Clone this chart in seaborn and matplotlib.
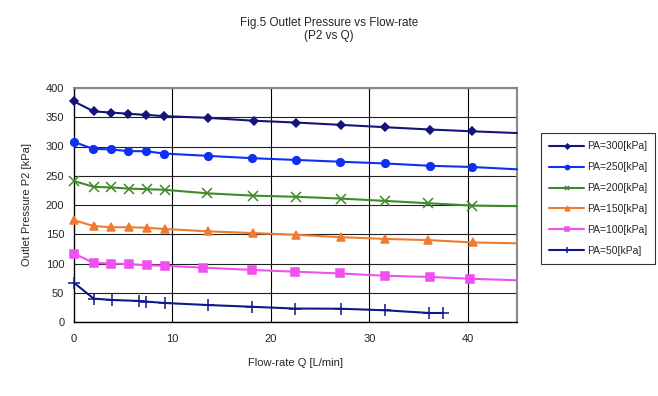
import matplotlib
matplotlib.use("Agg")
import matplotlib.pyplot as plt
import seaborn as sns
import pandas as pd

# flow-rate Q [L/min] and outlet pressure P2 [kPa] for each series
q_300 = [0, 2.0, 3.8, 5.5, 7.3, 9.1, 13.6, 18.3, 22.5, 27.1, 31.6, 36.2, 40.4, 45]
p_300 = [377, 360, 358, 356, 354, 352, 349, 344, 341, 337, 333, 329, 326, 323]

q_250 = [0, 1.9, 3.8, 5.5, 7.3, 9.1, 13.6, 18.1, 22.6, 27.0, 31.6, 36.2, 40.4, 45]
p_250 = [308, 296, 295, 292, 292, 288, 284, 280, 277, 274, 271, 267, 265, 261]

q_200 = [0, 2.0, 3.8, 5.6, 7.4, 9.2, 13.5, 18.2, 22.6, 27.1, 31.6, 36.0, 40.4, 45]
p_200 = [241, 231, 230, 228, 227, 226, 220, 216, 214, 211, 207, 203, 199, 198]

q_150 = [0, 2.0, 3.8, 5.6, 7.4, 9.2, 13.6, 18.2, 22.6, 27.1, 31.6, 36.0, 40.5, 45]
p_150 = [174, 164, 162, 162, 161, 159, 155, 152, 149, 145, 142, 140, 136, 134.5]

q_100 = [0, 2.0, 3.8, 5.6, 7.4, 9.2, 13.1, 18.1, 22.4, 27.0, 31.6, 36.2, 40.2, 45]
p_100 = [117, 101, 100, 99, 97, 96, 93, 89, 86, 83, 79, 77, 74, 71.3]

q_50 = [0, 2.0, 3.9, 6.6, 7.3, 9.2, 13.6, 18.1, 22.4, 27.1, 31.6, 36.1, 37.5]
p_50 = [67, 40, 37.6, 36, 35, 32.5, 29, 26, 23, 22.7, 20, 15.4, 15.4]

series_labels = ["PA=300[kPa]", "PA=250[kPa]", "PA=200[kPa]",
                 "PA=150[kPa]", "PA=100[kPa]", "PA=50[kPa]"]
series_q = [q_300, q_250, q_200, q_150, q_100, q_50]
series_p = [p_300, p_250, p_200, p_150, p_100, p_50]
# last point of the first five series is only the line running off the right edge
edge_only = [True, True, True, True, True, False]

colors = ["#14147a", "#1030f0", "#3f8a2c", "#f07a30", "#f050f0", "#10188a"]
markers = ["D", "o", "x", "^", "s", "+"]
msizes = [4.5, 5.5, 6.5, 6, 5.5, 8]

frames = []
for lab, qq, pp in zip(series_labels, series_q, series_p):
    frames.append(pd.DataFrame({"Q": qq, "P2": pp, "series": lab}))
df = pd.concat(frames, ignore_index=True)

sns.set_style("white")
plt.rcParams["font.family"] = ["Liberation Sans", "DejaVu Sans"]

fig = plt.figure(figsize=(6.58, 3.96), dpi=100)
ax = fig.add_axes([74 / 658, 1 - 322 / 396, (517 - 74) / 658, (322 - 88) / 396])

for i, lab in enumerate(series_labels):
    sub = df[df["series"] == lab]
    n = len(sub)
    every = list(range(n - 1)) if edge_only[i] else list(range(n))
    sns.lineplot(data=sub, x="Q", y="P2", ax=ax, color=colors[i], marker=markers[i],
                 markersize=msizes[i], markeredgecolor=colors[i], markevery=every,
                 markeredgewidth=1.1, linewidth=1.5, label=lab,
                 sort=False, estimator=None, clip_on=False, zorder=3)

ax.set_xlim(0, 45)
ax.set_ylim(0, 400)
ax.set_xticks([0, 10, 20, 30, 40])
ax.set_yticks(range(0, 401, 50))
ax.tick_params(labelsize=8, length=0)
ax.tick_params(axis="x", pad=9)
ax.tick_params(axis="y", pad=7)

ax.yaxis.grid(True, color="#222222", linewidth=0.8)
for xv in [10, 20, 30, 40]:
    ax.axvline(xv, color="black", linewidth=0.8, zorder=0)

for side in ["left", "bottom"]:
    ax.spines[side].set_color("black")
    ax.spines[side].set_linewidth(1.0)
for side in ["top", "right"]:
    ax.spines[side].set_color("#888888")
    ax.spines[side].set_linewidth(1.5)

ax.set_xlabel("Flow-rate Q [L/min]", fontsize=8, labelpad=10)
ax.set_ylabel("Outlet Pressure P2 [kPa]", fontsize=8, labelpad=10)

fig.suptitle("Fig.5 Outlet Pressure vs Flow-rate\n(P2 vs Q)", fontsize=8.5,
             x=0.5, y=0.958, linespacing=1.1)

leg = ax.legend(loc="upper left", bbox_to_anchor=(541 / 658, 1 - 133 / 396),
                bbox_transform=fig.transFigure, fontsize=7.5, frameon=True,
                fancybox=False, edgecolor="black", borderpad=0.8,
                labelspacing=1.05, handlelength=3.3, handletextpad=0.3,
                markerscale=0.55, borderaxespad=0)
leg.get_frame().set_linewidth(0.8)

fig.savefig("out.png", dpi=100, facecolor="white")
